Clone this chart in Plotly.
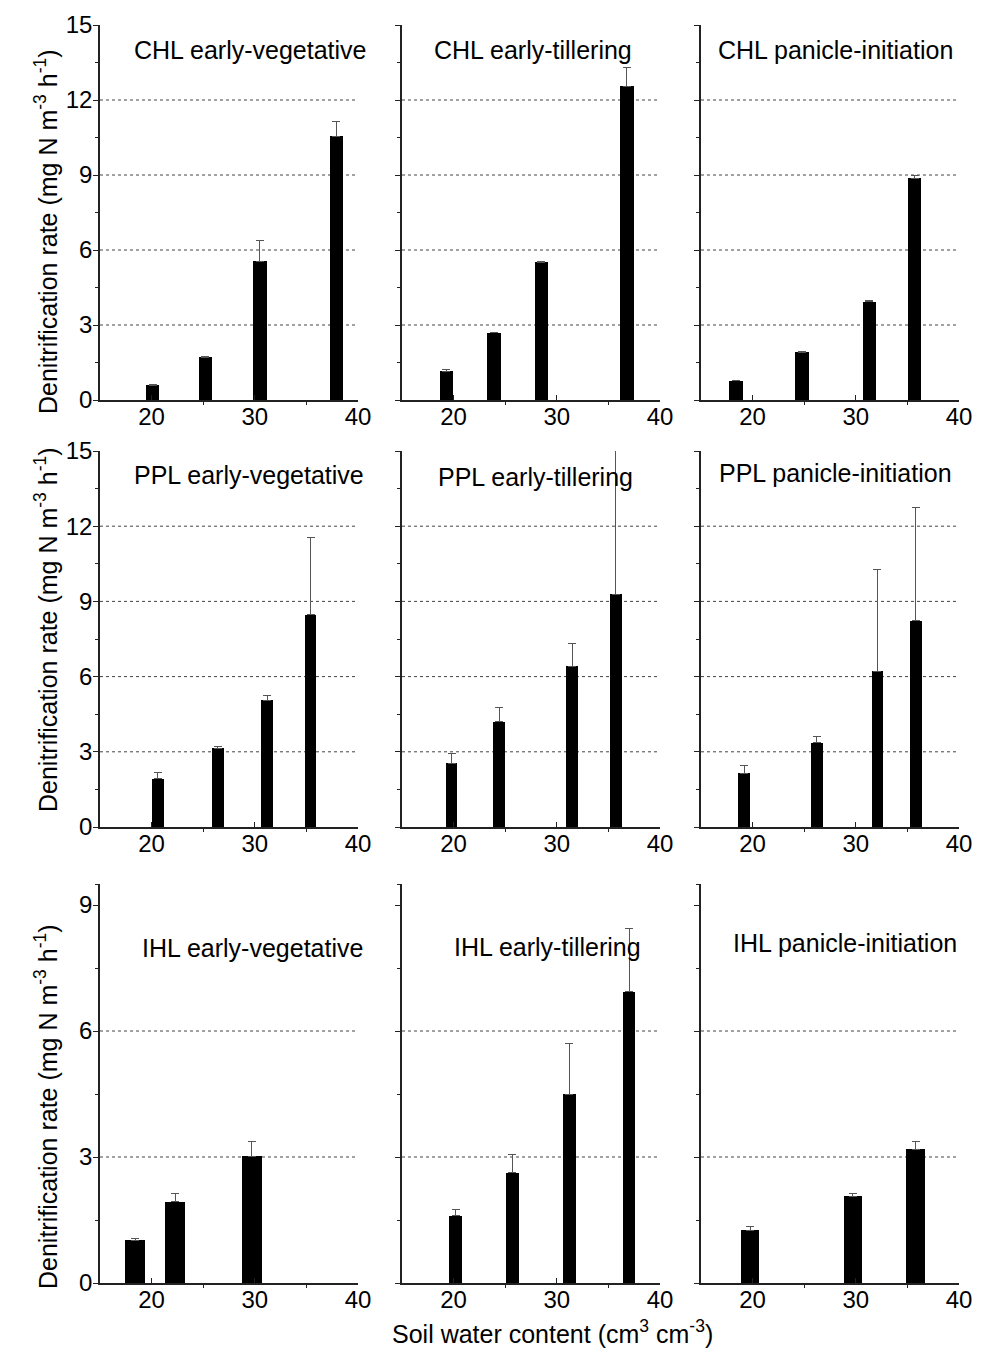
import plotly.graph_objects as go

# ---------------- data ----------------
panel_titles = [
    "CHL early-vegetative", "CHL early-tillering", "CHL panicle-initiation",
    "PPL early-vegetative", "PPL early-tillering", "PPL panicle-initiation",
    "IHL early-vegetative", "IHL early-tillering", "IHL panicle-initiation",
]

chl_ev_x = [20.1, 25.2, 30.5, 37.9]
chl_ev_y = [0.60, 1.72, 5.56, 10.56]
chl_ev_se = [0.03, 0.03, 0.84, 0.57]

chl_et_x = [19.3, 23.9, 28.5, 36.8]
chl_et_y = [1.16, 2.69, 5.52, 12.56]
chl_et_se = [0.06, 0.03, 0.03, 0.74]

chl_pi_x = [18.4, 24.8, 31.3, 35.7]
chl_pi_y = [0.77, 1.92, 3.93, 8.87]
chl_pi_se = [0.02, 0.02, 0.05, 0.12]

ppl_ev_x = [20.6, 26.4, 31.2, 35.4]
ppl_ev_y = [1.93, 3.14, 5.05, 8.46]
ppl_ev_se = [0.24, 0.06, 0.19, 3.07]

ppl_et_x = [19.8, 24.4, 31.5, 35.7]
ppl_et_y = [2.55, 4.19, 6.42, 9.28]
ppl_et_se = [0.37, 0.57, 0.91, 6.00]

ppl_pi_x = [19.2, 26.2, 32.1, 35.8]
ppl_pi_y = [2.15, 3.36, 6.22, 8.22]
ppl_pi_se = [0.31, 0.26, 4.04, 4.52]

ihl_ev_x = [18.4, 22.3, 29.7]
ihl_ev_y = [1.02, 1.93, 3.02]
ihl_ev_se = [0.03, 0.19, 0.35]

ihl_et_x = [20.2, 25.7, 31.2, 37.0]
ihl_et_y = [1.60, 2.63, 4.50, 6.93]
ihl_et_se = [0.15, 0.42, 1.20, 1.50]

ihl_pi_x = [19.75, 29.7, 35.8]
ihl_pi_y = [1.26, 2.07, 3.18]
ihl_pi_se = [0.09, 0.06, 0.19]

x_ticks = [20, 30, 40]
y_ticks_rows = [[0, 3, 6, 9, 12, 15], [0, 3, 6, 9, 12, 15], [0, 3, 6, 9]]
grid_rows = [[3, 6, 9, 12], [3, 6, 9, 12], [3, 6]]

y_title = "Denitrification rate (mg N m<sup>-3</sup> h<sup>-1</sup>)"
x_title = "Soil water content (cm<sup>3</sup> cm<sup>-3</sup>)"

panel_x = [chl_ev_x, chl_et_x, chl_pi_x, ppl_ev_x, ppl_et_x, ppl_pi_x, ihl_ev_x, ihl_et_x, ihl_pi_x]
panel_y = [chl_ev_y, chl_et_y, chl_pi_y, ppl_ev_y, ppl_et_y, ppl_pi_y, ihl_ev_y, ihl_et_y, ihl_pi_y]
panel_se = [chl_ev_se, chl_et_se, chl_pi_se, ppl_ev_se, ppl_et_se, ppl_pi_se, ihl_ev_se, ihl_et_se, ihl_pi_se]

# ---------------- layout / style ----------------
W, H = 986, 1349
col_px = [(100, 358), (402, 660), (701, 959)]
row_px = [(25, 400), (451, 827), (884, 1283)]
row_ymax = [15, 15, 9.5]
row_minor = [[1.5, 4.5, 7.5, 10.5, 13.5], [1.5, 4.5, 7.5, 10.5, 13.5], [1.5, 4.5, 7.5, 9.5]]
bar_widths = [1.3, 1.3, 1.3, 1.15, 1.15, 1.15, 1.95, 1.23, 1.78]
title_pos = [(250, 50), (533, 50), (835, 50),
             (249, 475), (535, 477), (835, 473),
             (252, 948), (547, 947), (845, 943)]
ytitle_pos = [(46, 232), (46, 630), (46, 1107)]
FONT = "Liberation Sans, Arial, Helvetica, sans-serif"
AXC = "#222222"

fig = go.Figure()
shapes = []
annotations = []
layout_axes = {}

for i in range(9):
    r, c = divmod(i, 3)
    sfx = "" if i == 0 else str(i + 1)
    fig.add_trace(go.Bar(
        x=panel_x[i], y=panel_y[i], width=bar_widths[i],
        marker=dict(color="black", line=dict(width=0)),
        error_y=dict(type="data", symmetric=False, array=panel_se[i],
                     arrayminus=[0] * len(panel_se[i]),
                     color="#555555", thickness=1, width=4),
        xaxis="x" + sfx, yaxis="y" + sfx, showlegend=False,
    ))
    x0, x1 = col_px[c]
    y0, y1 = row_px[r]
    layout_axes["xaxis" + sfx] = dict(
        domain=[x0 / W, x1 / W], anchor="y" + sfx, range=[15, 40],
        tickvals=x_ticks, ticks="inside", ticklen=5, tickcolor=AXC,
        ticklabelstandoff=-6,
        showline=True, linecolor=AXC, linewidth=1.5,
        showgrid=False, zeroline=False, automargin=False,
        minor=dict(tickvals=[25, 35], ticks="outside", ticklen=3, tickcolor=AXC),
        tickfont=dict(family=FONT, size=24, color="black"),
        fixedrange=True,
    )
    layout_axes["yaxis" + sfx] = dict(
        domain=[1 - y1 / H, 1 - y0 / H], anchor="x" + sfx, range=[0, row_ymax[r]],
        tickvals=y_ticks_rows[r], showticklabels=(c == 0),
        ticks="outside", ticklen=5, tickcolor=AXC,
        ticklabelstandoff=-4,
        showline=True, linecolor=AXC, linewidth=1.5,
        showgrid=False, zeroline=False, automargin=False,
        minor=dict(tickvals=row_minor[r], ticks="outside", ticklen=3, tickcolor=AXC),
        tickfont=dict(family=FONT, size=24, color="black"),
        fixedrange=True,
    )
    for g in grid_rows[r]:
        shapes.append(dict(type="line", xref="x" + sfx + " domain", yref="y" + sfx,
                           x0=0, x1=1, y0=g, y1=g, layer="below",
                           line=dict(color="#444444", width=1, dash="3px,3px")))
    tx, ty = title_pos[i]
    annotations.append(dict(text=panel_titles[i], x=tx / W, y=1 - ty / H,
                            xref="paper", yref="paper", xanchor="center", yanchor="middle",
                            showarrow=False, font=dict(family=FONT, size=25, color="black")))

for (ax_, ay_) in ytitle_pos:
    annotations.append(dict(text=y_title, x=ax_ / W, y=1 - ay_ / H, xref="paper", yref="paper",
                            xanchor="center", yanchor="middle", textangle=-90, showarrow=False,
                            font=dict(family=FONT, size=25, color="black")))

annotations.append(dict(text=x_title, x=552 / W, y=1 - 1332 / H, xref="paper", yref="paper",
                        xanchor="center", yanchor="middle", showarrow=False,
                        font=dict(family=FONT, size=25, color="black")))

fig.update_layout(
    width=W, height=H, margin=dict(l=0, r=0, t=0, b=0, pad=0, autoexpand=False),
    paper_bgcolor="white", plot_bgcolor="white",
    bargap=0, shapes=shapes, annotations=annotations,
    **layout_axes,
)

fig.write_html("out.html", config={"displayModeBar": False},
               post_script="document.body.style.margin='0';document.body.style.overflow='hidden';")
